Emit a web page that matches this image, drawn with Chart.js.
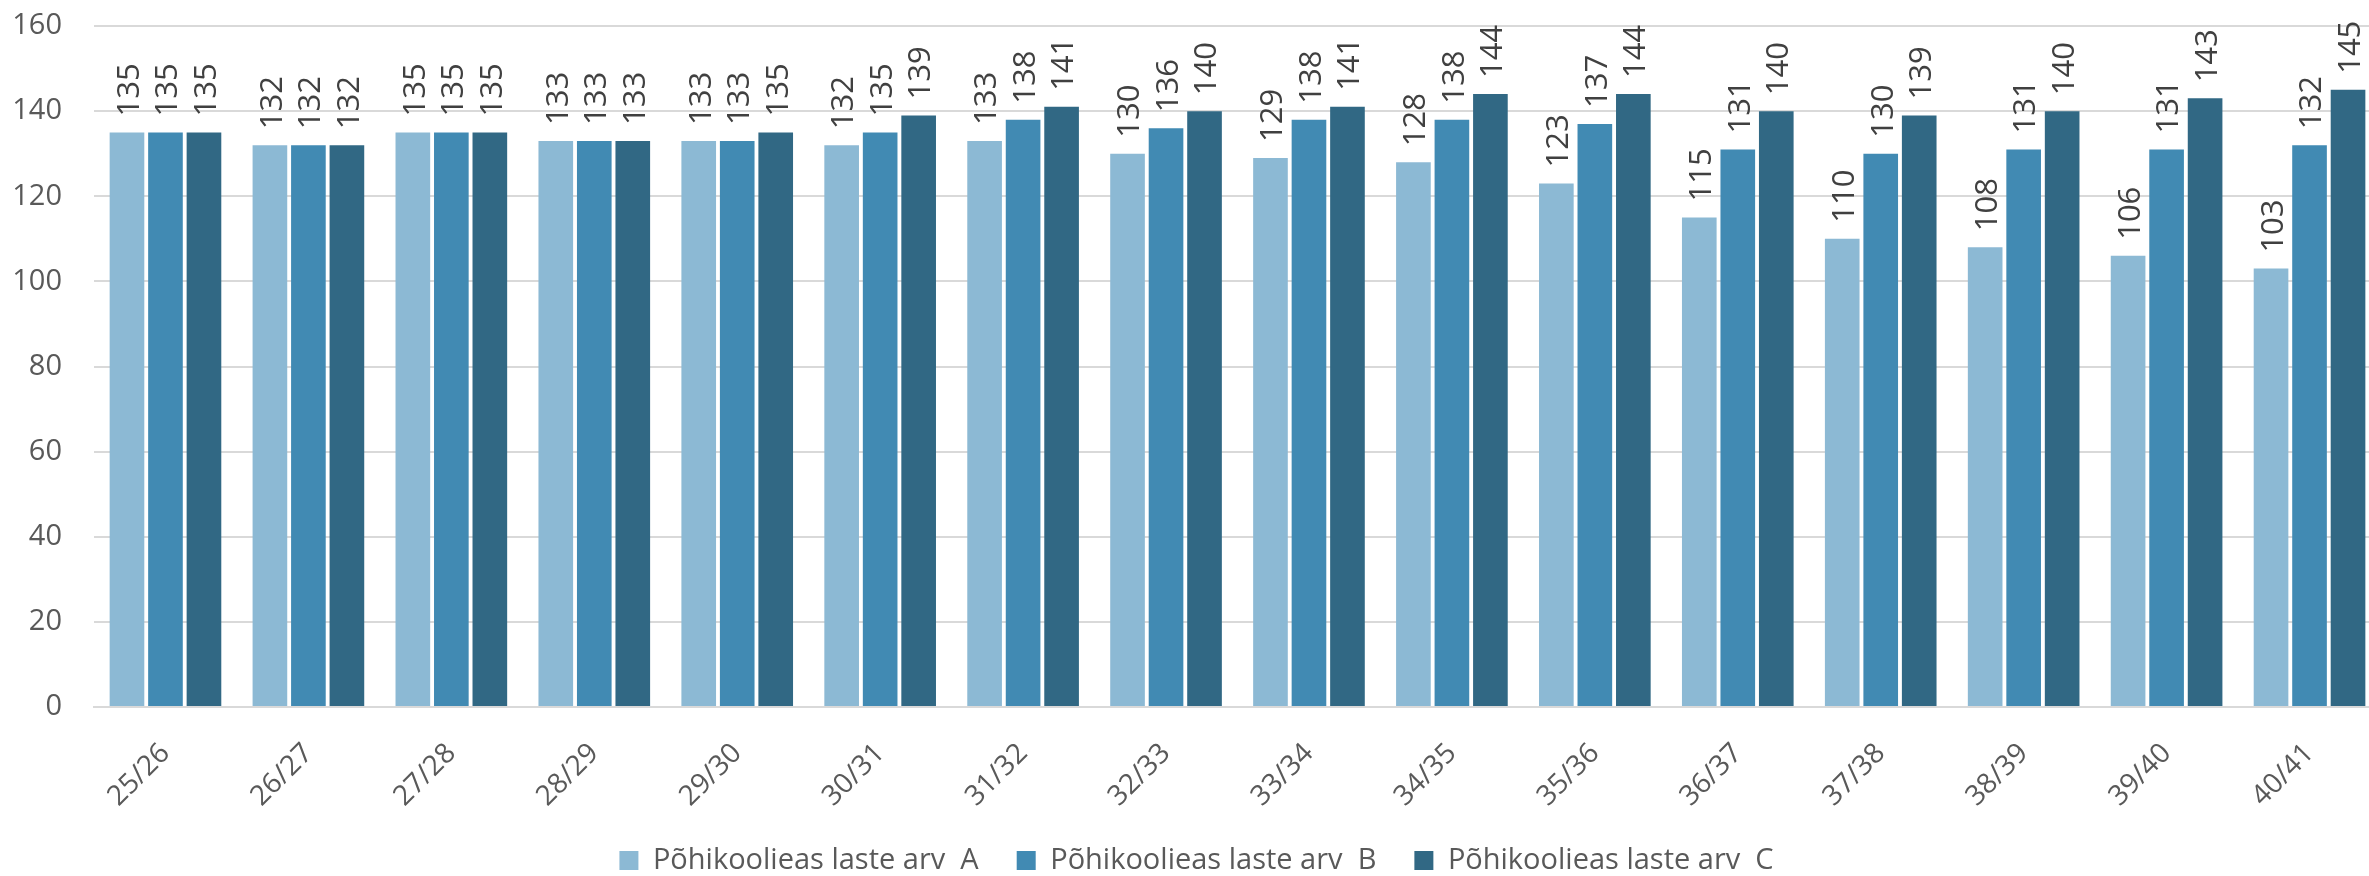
<!DOCTYPE html>
<html>
<head>
<meta charset="utf-8">
<script src="https://cdn.jsdelivr.net/npm/chart.js@4.4.0/dist/chart.umd.min.js"></script>
<style>
html,body{margin:0;padding:0;background:#fff;overflow:hidden;}
#wrap{width:2381px;height:876px;position:relative;}
</style>
</head>
<body>
<div id="wrap"><canvas id="c" width="2381" height="876"></canvas></div>
<script>
const categories = ["25/26","26/27","27/28","28/29","29/30","30/31","31/32","32/33","33/34","34/35","35/36","36/37","37/38","38/39","39/40","40/41"];
const seriesA = [135,132,135,133,133,132,133,130,129,128,123,115,110,108,106,103];
const seriesB = [135,132,135,133,133,135,138,136,138,138,137,131,130,131,131,132];
const seriesC = [135,132,135,133,135,139,141,140,141,144,144,140,139,140,143,145];
const seriesNames = ["Põhikoolieas laste arv  A","Põhikoolieas laste arv  B","Põhikoolieas laste arv  C"];
const yTicks = [0,20,40,60,80,100,120,140,160];

const FONT = "'Open Sans', 'Noto Sans', sans-serif";

const valueLabels = {
  id: 'valueLabels',
  afterDatasetsDraw(chart) {
    const ctx = chart.ctx;
    ctx.save();
    ctx.font = "31px " + FONT;
    ctx.fillStyle = "#404040";
    ctx.textAlign = "left";
    ctx.textBaseline = "middle";
    chart.data.datasets.forEach((ds, di) => {
      const meta = chart.getDatasetMeta(di);
      meta.data.forEach((bar, i) => {
        ctx.save();
        ctx.translate(bar.x + 3, bar.y - 16);
        ctx.rotate(-Math.PI / 2);
        ctx.fillText(String(Math.round(ds.data[i])), 0, 0);
        ctx.restore();
      });
    });
    ctx.restore();
  }
};

new Chart(document.getElementById('c'), {
  type: 'bar',
  data: {
    labels: categories,
    datasets: [
      {label: seriesNames[0], data: seriesA, backgroundColor: '#8cb9d4'},
      {label: seriesNames[1], data: seriesB, backgroundColor: '#418ab3'},
      {label: seriesNames[2], data: seriesC, backgroundColor: '#316884'}
    ]
  },
  options: {
    responsive: false,
    animation: false,
    devicePixelRatio: 1,
    layout: {padding: {left: 12, right: 0, top: 26, bottom: -9}},
    datasets: {bar: {categoryPercentage: 0.808, barPercentage: 0.9, borderWidth: 0}},
    plugins: {
      legend: {
        position: 'bottom',
        labels: {
          font: {size: 29, family: FONT},
          color: '#595959',
          boxWidth: 19,
          boxHeight: 19,
          padding: 38
        }
      },
      tooltip: {enabled: false}
    },
    scales: {
      x: {
        afterFit(scale) { scale.paddingLeft = 0; scale.paddingRight = 0; scale.height = 101; },
        grid: {display: false, drawTicks: false},
        border: {display: true, color: '#d9d9d9', width: 2},
        ticks: {
          color: '#595959',
          font: {size: 28, family: FONT},
          maxRotation: 45, minRotation: 45,
          padding: 30
        }
      },
      y: {
        min: 0, max: 160,
        afterBuildTicks(scale) { scale.ticks = yTicks.map(v => ({value: v})); },
        afterFit(scale) { scale.paddingTop = 0; scale.paddingBottom = 0; scale.width = 82; },
        grid: {color: '#d9d9d9', lineWidth: 2, drawTicks: false},
        border: {display: false},
        ticks: {
          color: '#595959',
          font: {size: 29, family: FONT},
          padding: 32
        }
      }
    }
  },
  plugins: [valueLabels]
});
</script>
</body>
</html>
